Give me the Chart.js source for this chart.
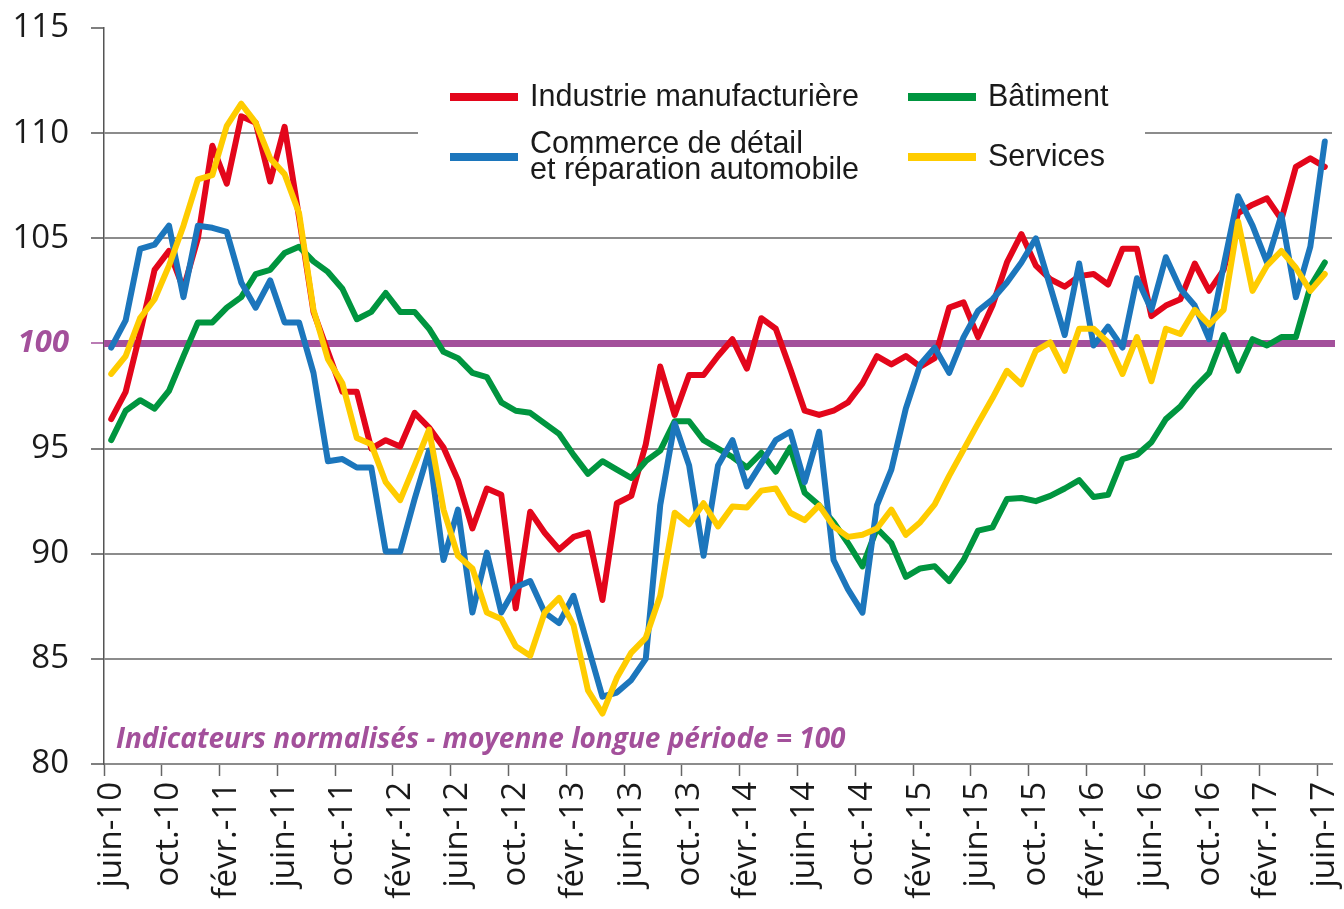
<!DOCTYPE html>
<html lang="fr">
<head>
<meta charset="utf-8">
<title>Climat des affaires par secteur</title>
<script src="https://cdn.jsdelivr.net/npm/chart.js@4.4.1/dist/chart.umd.min.js"></script>
<style>
  html, body { margin: 0; padding: 0; background: #fff; }
  #wrap { position: relative; width: 1344px; height: 909px; }
</style>
</head>
<body>
<div id="wrap"><canvas id="climatChart"></canvas></div>
<script>
// mois de juin-10 à juin-17
const monthNames = ['janv.', 'févr.', 'mars', 'avr.', 'mai', 'juin', 'juil.', 'août', 'sept.', 'oct.', 'nov.', 'déc.'];
const months = [];
for (let y = 2010; y <= 2017; y++) {
  for (let m = 0; m < 12; m++) {
    if ((y === 2010 && m < 5) || (y === 2017 && m > 5)) continue;
    months.push(monthNames[m] + '-' + String(y).slice(2));
  }
}

const yTicks = [80, 85, 90, 95, 100, 105, 110, 115];

const industrie = [
  96.4, 97.7, 100.5, 103.5, 104.4, 102.6, 105.0, 109.4, 107.6, 110.8,
  110.5, 107.7, 110.3, 106.0, 101.5, 99.6, 97.7, 97.7, 95.0, 95.4,
  95.1, 96.7, 96.0, 95.05, 93.5, 91.2, 93.1, 92.8, 87.4, 92.0,
  91.0, 90.2, 90.8, 91.0, 87.8, 92.4, 92.75, 95.2, 98.9, 96.6,
  98.5, 98.5, 99.4, 100.2, 98.8, 101.2, 100.7, 98.8, 96.8, 96.6,
  96.8, 97.2, 98.1, 99.4, 99.0, 99.4, 98.9, 99.3, 101.7, 101.95,
  100.3, 101.8, 103.85, 105.2, 103.7, 103.05, 102.7, 103.2, 103.3, 102.8,
  104.5, 104.5, 101.3, 101.8, 102.1, 103.8, 102.5, 103.5, 106.2, 106.6,
  106.9, 105.9, 108.4, 108.8, 108.4
];
const commerce = [
  99.8, 101.1, 104.5, 104.7, 105.6, 102.2, 105.6, 105.5, 105.3, 102.9,
  101.7, 103.0, 101.0, 101.0, 98.6, 94.4, 94.5, 94.1, 94.1, 90.1,
  90.1, 92.6, 94.9, 89.7, 92.1, 87.2, 90.05, 87.2, 88.4, 88.7,
  87.2, 86.7, 88.0, 85.6, 83.2, 83.4, 84.0, 85.0, 92.3, 96.2,
  94.2, 89.9, 94.2, 95.4, 93.2, 94.3, 95.4, 95.8, 93.4, 95.8,
  89.7, 88.3, 87.2, 92.3, 94.0, 96.9, 99.0, 99.8, 98.6, 100.3,
  101.55, 102.1, 102.9, 103.85, 105.0, 102.7, 100.4, 103.8, 99.9, 100.8,
  99.8, 103.1, 101.6, 104.1, 102.6, 101.8, 100.2, 103.7, 107.0, 105.6,
  103.85, 106.1, 102.2, 104.6, 109.6
];
const batiment = [
  95.4, 96.8, 97.3, 96.9, 97.75, 99.4, 101.0, 101.0, 101.7, 102.2,
  103.3, 103.5, 104.3, 104.6, 103.9, 103.4, 102.6, 101.15, 101.5, 102.4,
  101.5, 101.5, 100.7, 99.6, 99.3, 98.6, 98.4, 97.2, 96.8, 96.7,
  96.2, 95.7, 94.7, 93.8, 94.4, 94.0, 93.6, 94.4, 94.9, 96.3,
  96.3, 95.4, 95.0, 94.6, 94.1, 94.8, 93.9, 95.05, 92.9, 92.3,
  91.5, 90.5, 89.4, 91.2, 90.5, 88.9, 89.3, 89.4, 88.7, 89.7,
  91.1, 91.25, 92.6, 92.65, 92.5, 92.75, 93.1, 93.5, 92.7, 92.8,
  94.5, 94.7, 95.3, 96.4, 97.0, 97.9, 98.6, 100.4, 98.7, 100.2,
  99.9, 100.3, 100.3, 102.7, 103.85
];
const services = [
  98.55, 99.4, 101.2, 102.1, 103.7, 105.6, 107.8, 108.0, 110.35, 111.4,
  110.5, 108.8, 108.05, 106.2, 101.6, 99.25, 98.1, 95.5, 95.2, 93.4,
  92.55, 94.2, 95.9, 92.1, 89.9, 89.3, 87.2, 86.9, 85.6, 85.15,
  87.2, 87.9, 86.6, 83.5, 82.4, 84.1, 85.3, 86.0, 88.0, 91.95,
  91.4, 92.4, 91.3, 92.25, 92.2, 93.0, 93.1, 91.95, 91.6, 92.3,
  91.3, 90.8, 90.9, 91.2, 92.1, 90.9, 91.5, 92.35, 93.7, 94.95,
  96.2, 97.4, 98.7, 98.05, 99.65, 100.05, 98.7, 100.7, 100.7, 100.05,
  98.55, 100.3, 98.2, 100.7, 100.45, 101.6, 100.9, 101.6, 105.8, 102.5,
  103.7, 104.4, 103.6, 102.5, 103.3
];

const RED = '#e3061b';
const BLUE = '#1c76bc';
const GREEN = '#00953f';
const YELLOW = '#ffcc00';
const PURPLE = '#a3509b';
const GRID = '#8c8c8c';

function serie(label, data, color, order) {
  return {
    label: label,
    data: data,
    borderColor: color,
    backgroundColor: color,
    borderWidth: 6,
    pointRadius: 0,
    tension: 0,
    borderJoinStyle: 'round',
    borderCapStyle: 'round',
    order: order
  };
}

// ligne 100, légende et note
const decorPlugin = {
  id: 'decor',
  beforeDatasetsDraw(chart) {
    const { ctx, chartArea, scales } = chart;
    ctx.save();
    ctx.fillStyle = '#fff';
    ctx.fillRect(418, 70, 727, 120);
    const y100 = scales.y.getPixelForValue(100);
    ctx.strokeStyle = PURPLE;
    ctx.lineWidth = 7;
    ctx.beginPath();
    ctx.moveTo(chartArea.left, y100);
    ctx.lineTo(chartArea.right + 3, y100);
    ctx.stroke();
    ctx.restore();
  },
  afterDraw(chart) {
    const ctx = chart.ctx;
    const ds = chart.data.datasets;
    const slots = [
      { i: 0, x: 450, y: 97 },
      { i: 2, x: 908, y: 97 },
      { i: 1, x: 450, y: 157 },
      { i: 3, x: 908, y: 157 }
    ];
    ctx.save();
    ctx.font = '30.5px "Liberation Sans", Arial, sans-serif';
    ctx.textBaseline = 'middle';
    ctx.fillStyle = '#1a1a1a';
    slots.forEach(s => {
      const d = ds[s.i];
      ctx.strokeStyle = d.borderColor;
      ctx.lineWidth = 8;
      ctx.beginPath();
      ctx.moveTo(s.x, s.y);
      ctx.lineTo(s.x + 68, s.y);
      ctx.stroke();
      const lines = d.label.split('\n');
      const lh = 26;
      lines.forEach((t, k) => {
        ctx.fillText(t, s.x + 80, s.y + 1 + (k - (lines.length - 1) / 2) * lh);
      });
    });
    ctx.font = 'italic bold 28px "Open Sans", sans-serif';
    ctx.fillStyle = PURPLE;
    ctx.textAlign = 'left';
    ctx.fillText('Indicateurs normalisés - moyenne longue période = 100', 116, 740);
    ctx.restore();
  }
};

new Chart(document.getElementById('climatChart').getContext('2d'), {
  type: 'line',
  data: {
    labels: months,
    datasets: [
      serie('Industrie manufacturière', industrie, RED, 3),
      serie('Commerce de détail\net réparation automobile', commerce, BLUE, 1),
      serie('Bâtiment', batiment, GREEN, 2),
      serie('Services', services, YELLOW, 0)
    ]
  },
  options: {
    responsive: true,
    maintainAspectRatio: false,
    animation: false,
    layout: { padding: { top: 28, right: 12, left: 0, bottom: 0 } },
    plugins: {
      legend: { display: false },
      tooltip: { enabled: false }
    },
    scales: {
      x: {
        type: 'category',
        offset: true,
        grid: {
          offset: true,
          drawOnChartArea: false,
          drawTicks: true,
          tickLength: 12,
          tickWidth: 1.5,
          tickColor: c => (c.index % 4 === 0 ? '#666' : 'rgba(0,0,0,0)')
        },
        border: { color: GRID, width: 2 },
        ticks: {
          autoSkip: false,
          minRotation: 90,
          maxRotation: 90,
          padding: 6,
          color: '#1a1a1a',
          font: { family: '"Open Sans", sans-serif', size: 33 },
          callback: (v, i) => (i % 4 === 0 ? months[i] : '')
        },
        afterFit: s => { s.height = 145; s.paddingLeft = 0; s.paddingRight = 0; }
      },
      y: {
        min: 80,
        max: 115,
        afterBuildTicks: s => { s.ticks = yTicks.map(v => ({ value: v })); },
        grid: {
          color: c => (c.tick && (c.tick.value === 115 || c.tick.value === 100) ? 'rgba(0,0,0,0)' : GRID),
          lineWidth: 2,
          drawTicks: true,
          tickLength: 13,
          tickWidth: 1.5,
          tickColor: c => (c.tick && c.tick.value === 100 ? PURPLE : '#555')
        },
        border: { color: '#555', width: 1.5 },
        ticks: {
          padding: 22,
          color: c => (c.tick.value === 100 ? PURPLE : '#1a1a1a'),
          font: c => (c.tick && c.tick.value === 100
            ? { family: '"Open Sans", sans-serif', size: 31, style: 'italic', weight: 'bold' }
            : { family: '"Open Sans", sans-serif', size: 33 })
        },
        afterFit: s => { s.width = 104; s.paddingTop = 0; s.paddingBottom = 0; }
      }
    }
  },
  plugins: [decorPlugin]
});
</script>
</body>
</html>
